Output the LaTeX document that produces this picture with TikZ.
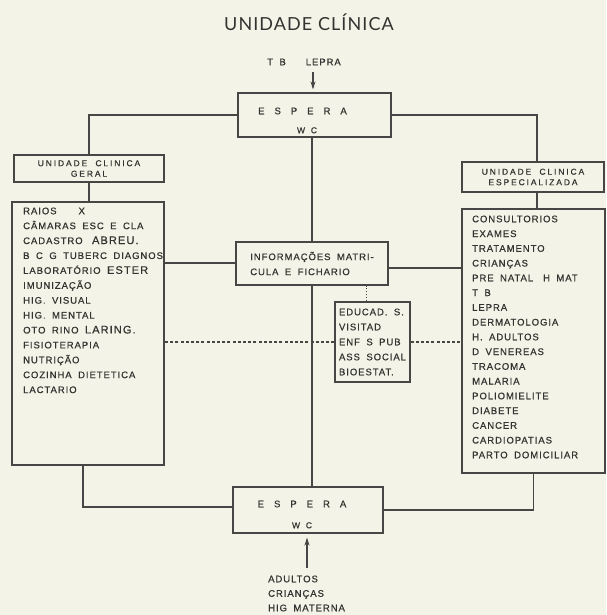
\documentclass[tikz,border=0pt]{standalone}
\usepackage{fontspec}
\usetikzlibrary{arrows.meta}
\setmainfont{Liberation Sans}
\newfontfamily\titlefont[LetterSpace=6]{Lato}
\newfontfamily\stencil[LetterSpace=10, WordSpace=1.8, FakeBold=0.6]{Liberation Sans}
\newfontfamily\stencilwide[LetterSpace=22, FakeBold=0.6]{Liberation Sans}
\definecolor{paper}{HTML}{F3F4E7}
\definecolor{ink}{HTML}{333331}
\definecolor{rule}{HTML}{464644}
\newcommand\espgap{\hspace{10pt}}
\newcommand\biglet[1]{{\fontsize{11}{14.8}\selectfont #1}}

\begin{document}
\begin{tikzpicture}[x=1pt, y=-1pt,
    box/.style={draw=rule, line width=1.1pt, inner sep=0pt},
    boxtext/.style={align=left, text=ink, font=\stencil\fontsize{9.5}{15}\selectfont},
    item/.style={anchor=west, inner sep=0pt, text height=6.5pt, text depth=0pt,
      text=ink, font=\stencil\fontsize{9.5}{15}\selectfont},
    small/.style={font=\stencil\fontsize{8.5}{9}\selectfont},
    head/.style={box, align=center, text=ink, font=\stencilwide\fontsize{8.5}{10.5}\selectfont},
    link/.style={draw=rule, line width=1.1pt},
    dashlink/.style={link, dash pattern=on 3pt off 2.2pt}]

  % Paper (fixes the page size)
  \fill[paper] (0,0) rectangle (606,615);
  \useasboundingbox (0,0) rectangle (606,615);

  % Title
  \node[text=ink, font=\titlefont\fontsize{18}{21}\selectfont] (title) at (309,22) {UNIDADE CLÍNICA};

  % Waiting rooms
  \node[box, minimum width=153pt, minimum height=44pt] (esperaTop) at (314.5,115) {};
  \node[item, anchor=center] (esperaTopName) at (302.5,111) {E\espgap S\espgap P\espgap E\espgap R\espgap A};
  \node[item, anchor=center, small] (esperaTopWc) at (307,130) {W C};

  \node[box, minimum width=150pt, minimum height=46pt] (esperaBot) at (308,510) {};
  \node[item, anchor=center] (esperaBotName) at (302,504) {E\espgap S\espgap P\espgap E\espgap R\espgap A};
  \node[item, anchor=center, small] (esperaBotWc) at (302,525) {W C};

  % Who comes in
  \node[item] (tbLabel) at (267,62) {T B\hspace{20pt}LEPRA};
  \foreach \who [count=\i] in {ADULTOS, CRIANÇAS, {HIG MATERNA}}
    \node[item] (src\i) at (268,{579+14.5*(\i-1)}) {\who};

  \coordinate (arrowTop) at (313,72);
  \coordinate (arrowBot) at (307,568);
  \draw[link, -{Stealth[length=8pt, width=5pt]}, shorten >=3pt] (arrowTop) -- (arrowTop |- esperaTop.north);
  \draw[link, -{Stealth[length=8pt, width=5pt]}, shorten >=4pt] (arrowBot) -- (arrowBot |- esperaBot.south);

  % Unit headers
  \node[head, minimum width=150pt, minimum height=27pt] (genHead) at (89,168.5) {UNIDADE\hspace{4pt} CLINICA\\GERAL};
  \node[head, minimum width=142pt, minimum height=30pt] (speHead) at (533,177) {UNIDADE\hspace{4pt} CLINICA\\ESPECIALIZADA};

  % Unit lists
  \node[box, minimum width=152pt, minimum height=263pt] (genList) at (88,333.5) {};
  \node[box, minimum width=143pt, minimum height=264pt] (speList) at (533.5,341) {};

  \foreach \entry [count=\i] in {
    RAIOS\hspace{22pt}X, CÂMARAS ESC E CLA, {CADASTRO\hspace{3pt} \biglet{ABREU.}},
    B C G TUBERC DIAGNOS, {LABORATÓRIO \biglet{ESTER}}, IMUNIZAÇÃO,
    HIG. VISUAL, HIG. MENTAL, {OTO RINO \biglet{LARING.}}, FISIOTERAPIA,
    NUTRIÇÃO, COZINHA DIETETICA, LACTARIO}
    \node[item] (gen\i) at (23,{211+14.9*(\i-1)}) {\entry};

  \foreach \entry [count=\i] in {
    CONSULTORIOS, EXAMES, TRATAMENTO, CRIANÇAS, {PRE NATAL\hspace{10pt}H MAT},
    T B, LEPRA, DERMATOLOGIA, H. ADULTOS, D VENEREAS, TRACOMA, MALARIA,
    POLIOMIELITE, DIABETE, CANCER, CARDIOPATIAS, PARTO DOMICILIAR}
    \node[item] (spe\i) at (472,{219+14.75*(\i-1)}) {\entry};

  % Central services
  \node[box, boxtext, minimum width=152pt, minimum height=43pt] (info) at (312,263.5) {INFORMAÇÕES MATRI-\\CULA E FICHARIO};
  \node[box, boxtext, minimum width=75pt, minimum height=80pt] (educ) at (372.5,342) {EDUCAD. S.\\VISITAD\\ENF S PUB\\ASS SOCIAL\\BIOESTAT.};

  % Connectors
  \draw[link] (esperaTop.west) -| (genHead.north);
  \draw[link] (esperaTop.east) -| ([xshift=4pt]speHead.north);
  \draw[link] (genHead.south) -- (genHead.south |- genList.north);
  \draw[link] ([xshift=4pt]speHead.south) -- ([xshift=4pt]speHead.south |- speList.north);

  \draw[link] (info.north |- esperaTop.south) -- (info.north);
  \draw[link] (info.south) -- (info.south |- esperaBot.north);
  \draw[link] ([yshift=0.5pt]info.west) -- ([yshift=0.5pt]info.west -| genList.east);
  \draw[link] ([yshift=-4.5pt]info.east) -- ([yshift=-4.5pt]info.east -| speList.west);

  \draw[link, dash pattern=on 1.5pt off 1.5pt] ([xshift=-6pt]educ.north) -- ([xshift=-6pt]educ.north |- info.south);
  \draw[dashlink] (educ.west) -- (educ.west -| genList.east);
  \draw[dashlink] (educ.east) -- (educ.east -| speList.west);

  \draw[link] ([xshift=-5pt]genList.south) |- ([yshift=3pt]esperaBot.west);
  \draw[link] (speList.south) |- (esperaBot.east);
\end{tikzpicture}
\end{document}
